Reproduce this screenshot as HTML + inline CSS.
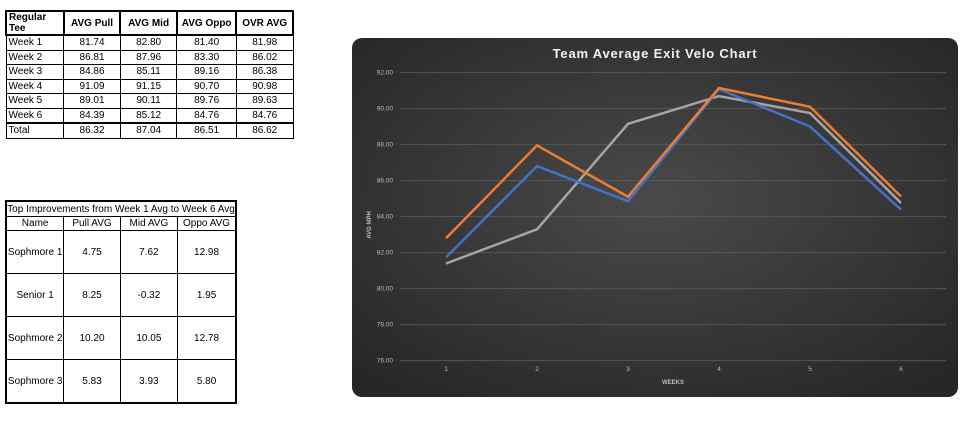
<!DOCTYPE html>
<html><head><meta charset="utf-8"><style>
body{margin:0;width:974px;height:437px;background:#fff;position:relative;overflow:hidden;font-family:"Liberation Sans",sans-serif}
table{border-collapse:collapse;position:absolute;font-size:10px;color:#000}
td{border:1px solid #000;text-align:center;padding:0}
#t1{left:5px;top:10px;width:289px}
#t1 td{height:13.5px}
#t1 td:first-child{text-align:left;padding-left:2px}
#t1 tr.h td{font-weight:bold;border:2px solid #000}
#t1 tr.tot td{border-top:2px solid #000}
#t2{left:5px;top:200px;width:232px;border:2px solid #000}
#t2 td{height:42px}
#t2 tr.tt td{height:14px;font-size:10px}
#t2 tr.hh td{height:13px}
</style></head><body>
<table id="t1">
<colgroup><col style="width:58px"><col style="width:57px"><col style="width:57px"><col style="width:60px"><col style="width:57px"></colgroup>
<tr class="h"><td>Regular Tee</td><td>AVG Pull</td><td>AVG Mid</td><td>AVG Oppo</td><td>OVR AVG</td></tr>
<tr><td>Week 1</td><td>81.74</td><td>82.80</td><td>81.40</td><td>81.98</td></tr>
<tr><td>Week 2</td><td>86.81</td><td>87.96</td><td>83.30</td><td>86.02</td></tr>
<tr><td>Week 3</td><td>84.86</td><td>85.11</td><td>89.16</td><td>86.38</td></tr>
<tr><td>Week 4</td><td>91.09</td><td>91.15</td><td>90.70</td><td>90.98</td></tr>
<tr><td>Week 5</td><td>89.01</td><td>90.11</td><td>89.76</td><td>89.63</td></tr>
<tr><td>Week 6</td><td>84.39</td><td>85.12</td><td>84.76</td><td>84.76</td></tr>
<tr class="tot"><td>Total</td><td>86.32</td><td>87.04</td><td>86.51</td><td>86.62</td></tr>
</table>
<table id="t2">
<colgroup><col style="width:58px"><col style="width:57px"><col style="width:58px"><col style="width:59px"></colgroup>
<tr class="tt"><td colspan="4">Top Improvements from Week 1 Avg to Week 6 Avg</td></tr>
<tr class="hh"><td>Name</td><td>Pull AVG</td><td>Mid AVG</td><td>Oppo AVG</td></tr>
<tr><td>Sophmore 1</td><td>4.75</td><td>7.62</td><td>12.98</td></tr>
<tr><td>Senior 1</td><td>8.25</td><td>-0.32</td><td>1.95</td></tr>
<tr><td>Sophmore 2</td><td>10.20</td><td>10.05</td><td>12.78</td></tr>
<tr><td>Sophmore 3</td><td>5.83</td><td>3.93</td><td>5.80</td></tr>
</table>
<svg id="chart" style="position:absolute;left:0;top:0" width="974" height="437">
<defs><radialGradient id="bg" cx="0.5" cy="0.45" r="0.7"><stop offset="0" stop-color="#4a4a4a"/><stop offset="1" stop-color="#262626"/></radialGradient></defs>
<rect x="352" y="38" width="606" height="359" rx="10" fill="url(#bg)"/>
<text x="655" y="58" fill="#f2f2f2" font-size="13" font-weight="bold" text-anchor="middle" letter-spacing="0.8">Team Average Exit Velo Chart</text>
<text transform="translate(371,225) rotate(-90)" fill="#bbb" font-size="6" font-weight="bold" text-anchor="middle">AVG MPH</text>
<text x="673" y="384" fill="#bbb" font-size="6" font-weight="bold" text-anchor="middle">WEEKS</text>
<g id="grid"></g><g id="series"></g>
</svg>
<script>
const weeks=["1","2","3","4","5","6"];
const pull=[81.74,86.81,84.86,91.09,89.01,84.39];
const mid=[82.80,87.96,85.11,91.15,90.11,85.12];
const oppo=[81.40,83.30,89.16,90.70,89.76,84.76];
const yTicks=[76,78,80,82,84,86,88,90,92];
const ns="http://www.w3.org/2000/svg";
const yMin=76,yMax=92,yTop=72.7,yBot=360.7;
const y=v=>yBot-(v-yMin)/(yMax-yMin)*(yBot-yTop);
const x=i=>446+i*(901-446)/(weeks.length-1);
const grid=document.getElementById('grid'),ser=document.getElementById('series');
yTicks.forEach(t=>{
const l=document.createElementNS(ns,'line');


l.setAttribute('x1',400);l.setAttribute('x2',946);l.setAttribute('y1',y(t));l.setAttribute('y2',y(t));
l.setAttribute('stroke','#5a5a5a');l.setAttribute('stroke-width','0.8');grid.appendChild(l);
const tx=document.createElementNS(ns,'text');


tx.setAttribute('x',393);tx.setAttribute('y',y(t)+2);tx.setAttribute('text-anchor','end');
tx.setAttribute('fill','#bbb');tx.setAttribute('font-size','6.5');tx.textContent=t.toFixed(2);grid.appendChild(tx);
});
weeks.forEach((w,i)=>{
const tx=document.createElementNS(ns,'text');


tx.setAttribute('x',x(i));tx.setAttribute('y',371);tx.setAttribute('text-anchor','middle');
tx.setAttribute('fill','#bbb');tx.setAttribute('font-size','6.5');tx.textContent=w;grid.appendChild(tx);
});
[[oppo,'#a5a5a5','line-oppo'],[pull,'#4472c4','line-pull'],[mid,'#ed7d31','line-mid']].forEach(([d,c,n])=>{
const p=document.createElementNS(ns,'polyline');


p.setAttribute('points',d.map((v,i)=>x(i)+','+y(v)).join(' '));
p.setAttribute('fill','none');p.setAttribute('stroke',c);p.setAttribute('stroke-width','2.5');
ser.appendChild(p);
});
</script>
</body></html>
